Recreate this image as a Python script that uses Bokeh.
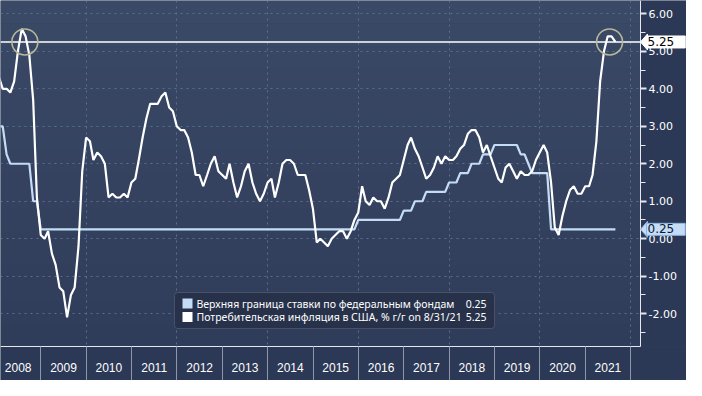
import numpy as np
import pandas as pd
from bokeh.plotting import figure
from bokeh.models import (ColumnDataSource, Range1d, FixedTicker, CustomJSTickFormatter,
                          PrintfTickFormatter, Label, BoxAnnotation, PolyAnnotation)
from bokeh.embed import file_html
from bokeh.resources import INLINE

# ---------------- data ----------------
cpi_start = "2008-01-31"
cpi_yoy = [
    4.3, 4.0, 4.0, 3.9, 4.2, 5.0, 5.6, 5.4, 4.9, 3.7, 1.1, 0.1,
    0.0, 0.2, -0.4, -0.7, -1.3, -1.4, -2.1, -1.5, -1.3, -0.2, 1.8, 2.7,
    2.6, 2.1, 2.3, 2.2, 2.0, 1.1, 1.2, 1.1, 1.1, 1.2, 1.1, 1.5,
    1.6, 2.1, 2.7, 3.2, 3.6, 3.6, 3.6, 3.8, 3.9, 3.5, 3.4, 3.0,
    2.9, 2.9, 2.7, 2.3, 1.7, 1.7, 1.4, 1.7, 2.0, 2.2, 1.8, 1.7,
    1.6, 2.0, 1.5, 1.1, 1.4, 1.8, 2.0, 1.5, 1.2, 1.0, 1.2, 1.5,
    1.6, 1.1, 1.5, 2.0, 2.1, 2.1, 2.0, 1.7, 1.7, 1.7, 1.3, 0.8,
    -0.1, 0.0, -0.1, -0.2, 0.0, 0.1, 0.2, 0.2, 0.0, 0.2, 0.5, 0.7,
    1.4, 1.0, 0.9, 1.1, 1.0, 1.0, 0.8, 1.1, 1.5, 1.6, 1.7, 2.1,
    2.5, 2.7, 2.4, 2.2, 1.9, 1.6, 1.7, 1.9, 2.2, 2.0, 2.2, 2.1,
    2.1, 2.2, 2.4, 2.5, 2.8, 2.9, 2.9, 2.7, 2.3, 2.5, 2.2, 1.9,
    1.6, 1.5, 1.9, 2.0, 1.8, 1.6, 1.8, 1.7, 1.7, 1.8, 2.1, 2.3,
    2.5, 2.3, 1.5, 0.3, 0.1, 0.6, 1.0, 1.3, 1.4, 1.2, 1.2, 1.4,
    1.4, 1.7, 2.6, 4.2, 5.0, 5.4, 5.4, 5.25,
]

fed_months = ["2008-01", "2008-02", "2008-03", "2008-04", "2008-09", "2008-10", "2008-11",
              "2008-12", "2015-11", "2015-12", "2016-11", "2016-12", "2017-02", "2017-03",
              "2017-05", "2017-06", "2017-11", "2017-12", "2018-02", "2018-03", "2018-05",
              "2018-06", "2018-08", "2018-09", "2018-11", "2018-12", "2019-06", "2019-07",
              "2019-08", "2019-09", "2019-10", "2020-02", "2020-03", "2021-08"]
fed_upper = [3.00, 3.00, 2.25, 2.00, 2.00, 1.00, 1.00,
             0.25, 0.25, 0.50, 0.50, 0.75, 0.75, 1.00,
             1.00, 1.25, 1.25, 1.50, 1.50, 1.75, 1.75,
             2.00, 2.00, 2.25, 2.25, 2.50, 2.50, 2.25,
             2.25, 2.00, 1.75, 1.75, 0.25, 0.25]

years = list(range(2008, 2022))
y_ticks = [-2, -1, 0, 1, 2, 3, 4, 5, 6]
y_minor = [-2.5, -1.5, -0.5, 0.5, 1.5, 2.5, 3.5, 4.5, 5.5]

last_cpi = 5.25
last_fed = 0.25
circle_dates = ["2008-08-25", "2021-07-15"]
circle_values = [5.25, 5.25]

legend_names = ["Верхняя граница ставки по федеральным фондам",
                "Потребительская инфляция в США, % г/г on 8/31/21"]
legend_values = ["0.25", "5.25"]

# ---------------- styling / layout ----------------
BG_TOP = (58, 73, 102)
BG_BOTTOM = (47, 60, 90)
BORDER_BG = "#2b3856"
GRID = "#5d6f8f"
FED_COLOR = "#c4dcf6"
CPI_COLOR = "#ffffff"
AXIS_COLOR = "#e6e8ee"

W, H = 686, 380            # whole canvas (= frame)
PLOT_W, PLOT_H = 640, 346  # data area inside it, top-left
BAND = H - PLOT_H


def ms(ts):
    return pd.Timestamp(ts).value / 1e6


cpi_dates = pd.date_range(cpi_start, periods=len(cpi_yoy), freq="ME")
fed_dates = pd.to_datetime(fed_months) + pd.offsets.MonthEnd(0)

x_start, x_end = ms("2008-02-11"), ms("2022-03-21")
y_start, y_end = -2.877, 6.357
ms_per_px = (x_end - x_start) / PLOT_W
u_per_px = (y_end - y_start) / PLOT_H
x_frame_end = x_start + W * ms_per_px
y_frame_start = y_start - BAND * u_per_px

p = figure(width=W, height=H, x_axis_type="datetime", y_axis_location="right",
           output_backend="svg", toolbar_location=None,
           x_range=Range1d(x_start, x_frame_end), y_range=Range1d(y_frame_start, y_end),
           min_border=0)
p.background_fill_color = "#35445f"
p.border_fill_color = BORDER_BG
p.outline_line_color = None

# subtle vertical background gradient of the data area (styling only)
n_bands = 30
edges = np.linspace(y_end, y_start, n_bands + 1)
mix = np.linspace(0, 1, n_bands)
band_colors = ["#%02x%02x%02x" % tuple(int(round(a + (b - a) * t)) for a, b in zip(BG_TOP, BG_BOTTOM))
               for t in mix]
p.quad(left=x_start, right=x_end, top=edges[:-1], bottom=edges[1:],
       fill_color=band_colors, line_color=None, level="image")

# grids
p.ygrid.ticker = FixedTicker(ticks=y_ticks)
p.ygrid.grid_line_color = GRID
p.ygrid.grid_line_dash = "2 4"
p.xgrid.ticker = FixedTicker(ticks=[ms(f"{y}-01-01") for y in range(2010, 2023, 2)])
p.xgrid.grid_line_color = GRID
p.xgrid.grid_line_dash = "2 4"

# darker axis areas (right strip and bottom band)
p.quad(left=[x_end, x_start], right=[x_frame_end, x_frame_end],
       bottom=[y_start, y_frame_start], top=[y_end, y_start],
       fill_color=BORDER_BG, line_color=None)

# right axis, drawn at the data area's right edge
ya = p.yaxis[0]
ya.fixed_location = x_end
ya.bounds = (y_start, y_end)
ya.ticker = FixedTicker(ticks=y_ticks, minor_ticks=y_minor)
ya.formatter = PrintfTickFormatter(format="%.2f")
ya.axis_line_color = AXIS_COLOR
ya.major_tick_line_color = AXIS_COLOR
ya.major_tick_line_width = 2
ya.major_tick_in = 0
ya.major_tick_out = 6
ya.minor_tick_line_color = AXIS_COLOR
ya.minor_tick_in = 0
ya.minor_tick_out = 5
ya.major_label_standoff = 2
ya.major_label_text_color = "#ffffff"
ya.major_label_text_font = "DejaVu Sans"
ya.major_label_text_font_size = "11px"

# bottom axis: labels at mid-year, separators at year boundaries
xa = p.xaxis[0]
xa.fixed_location = y_start
xa.bounds = (x_start, x_end)
xa.ticker = FixedTicker(ticks=[ms(f"{y}-07-02") for y in years],
                        minor_ticks=[ms(f"{y}-01-01") for y in range(2009, 2023)])
xa.formatter = CustomJSTickFormatter(code="return String(new Date(tick).getUTCFullYear());")
xa.axis_line_color = AXIS_COLOR
xa.major_tick_line_color = None
xa.major_tick_out = 0
xa.major_tick_in = 0
xa.minor_tick_line_color = "#8e97aa"
xa.minor_tick_in = 0
xa.minor_tick_out = BAND
xa.major_label_standoff = -18
xa.major_label_text_color = "#ffffff"
xa.major_label_text_font = "Liberation Sans"
xa.major_label_text_font_size = "12px"

# series
fed_src = ColumnDataSource(dict(x=fed_dates, y=fed_upper))
cpi_src = ColumnDataSource(dict(x=cpi_dates, y=cpi_yoy))
p.line("x", "y", source=fed_src, line_color=FED_COLOR, line_width=2.2)
p.line("x", "y", source=cpi_src, line_color=CPI_COLOR, line_width=2.2)

# horizontal line at last CPI value across the data area
p.segment(x0=[x_start], x1=[x_end], y0=[last_cpi], y1=[last_cpi],
          line_color="#ffffff", line_width=1.5)

# circles
circ_src = ColumnDataSource(dict(x=pd.to_datetime(circle_dates), y=circle_values))
p.scatter("x", "y", source=circ_src, marker="circle", size=26, fill_color=None,
          line_color="#b7b79a", line_width=1.6)

# callouts on the right axis
for val, fill, txt_col, border in [(last_cpi, "#ffffff", "#000000", "#ffffff"),
                                    (last_fed, FED_COLOR, "#0b1a33", "#8fb4e0")]:
    p.add_layout(PolyAnnotation(xs=[x_end, x_end + 7 * ms_per_px, x_end + 7 * ms_per_px],
                                ys=[val, val + 8 * u_per_px, val - 8 * u_per_px],
                                fill_color=fill, fill_alpha=1, line_color=border,
                                line_alpha=1))
    p.add_layout(Label(x=x_end, y=val, x_offset=6, text=f"{val:.2f}", text_align="left",
                       text_baseline="middle", text_color=txt_col,
                       text_font="DejaVu Sans", text_font_size="12px",
                       background_fill_color=fill, background_fill_alpha=1,
                       border_line_color=border, padding=(1, 11, 1, 2)))

# legend (manual, screen units relative to frame; y measured from frame bottom)
lg_left, lg_right, lg_top, lg_bottom = 174, 494, BAND + 54, BAND + 18
p.add_layout(BoxAnnotation(left=lg_left, right=lg_right, top=lg_top, bottom=lg_bottom,
                           left_units="screen", right_units="screen",
                           top_units="screen", bottom_units="screen",
                           fill_color="#27324a", fill_alpha=1, line_color="#8a909c",
                           line_width=1, border_radius=3))
row_y = [BAND + 43, BAND + 29.5]
for ry, col, name, val in zip(row_y, [FED_COLOR, CPI_COLOR], legend_names, legend_values):
    p.add_layout(BoxAnnotation(left=182, right=192, top=ry + 5, bottom=ry - 5,
                               left_units="screen", right_units="screen",
                               top_units="screen", bottom_units="screen",
                               fill_color=col, fill_alpha=1, line_color=None))
    p.add_layout(Label(x=196, y=ry, x_units="screen", y_units="screen", text=name,
                       text_baseline="middle", text_align="left", text_color="#ffffff",
                       text_font="Noto Sans", text_font_size="10.5px"))
    p.add_layout(Label(x=486, y=ry, x_units="screen", y_units="screen", text=val,
                       text_baseline="middle", text_align="right", text_color="#ffffff",
                       text_font="Noto Sans", text_font_size="10.5px"))

open("out.html", "w").write(file_html(p, INLINE))
